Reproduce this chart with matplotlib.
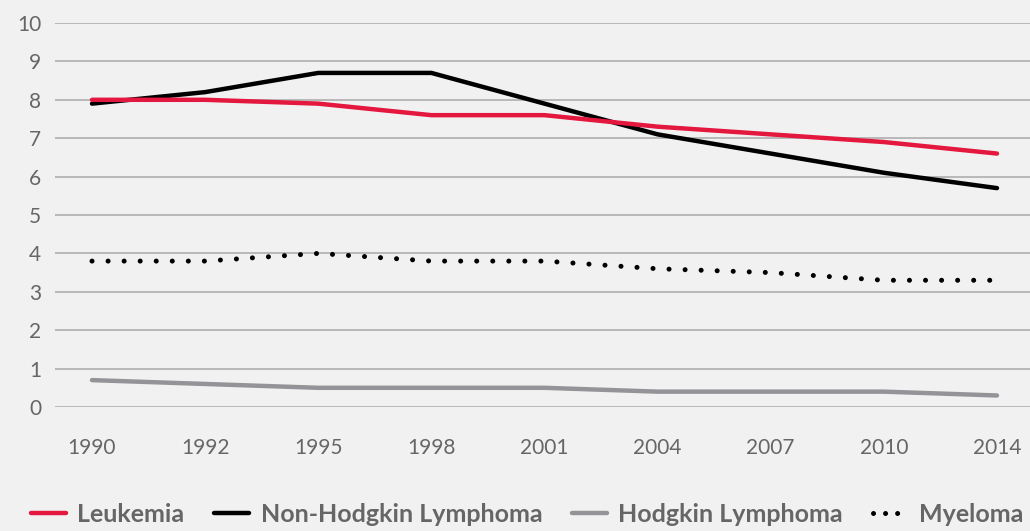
import matplotlib.pyplot as plt
from matplotlib.lines import Line2D

years = ['1990', '1992', '1995', '1998', '2001', '2004', '2007', '2010', '2014']
leukemia = [8.0, 8.0, 7.9, 7.6, 7.6, 7.3, 7.1, 6.9, 6.6]
nhl = [7.9, 8.2, 8.7, 8.7, 7.9, 7.1, 6.6, 6.1, 5.7]
hodgkin = [0.7, 0.6, 0.5, 0.5, 0.5, 0.4, 0.4, 0.4, 0.3]
myeloma = [3.8, 3.8, 4.0, 3.8, 3.8, 3.6, 3.5, 3.3, 3.3]

bg = '#f1f1f1'
txt = '#666666'
plt.rcParams['font.family'] = ['Lato', 'DejaVu Sans']

fig = plt.figure(figsize=(10.3, 5.31), dpi=100, facecolor=bg)
ax = fig.add_axes([55 / 1030, 1 - 407 / 531, 975 / 1030, 384 / 531], facecolor=bg)

x = list(range(len(years)))
ax.plot(x, hodgkin, color='#949498', lw=3.2, solid_capstyle='round', clip_on=False)
ax.plot(x, myeloma, color='black', lw=3.6, linestyle=(0, (0.01, 3.2)),
        dash_capstyle='round', clip_on=False)
ax.plot(x, nhl, color='black', lw=3.2, solid_capstyle='round', clip_on=False)
ax.plot(x, leukemia, color='#e4173e', lw=3.2, solid_capstyle='round', clip_on=False)

ax.set_ylim(0, 10)
ax.set_xlim(-37 / 113.1, 8 + 33 / 113.1)
ax.set_yticks(range(0, 11))
ax.set_xticks(x)
ax.set_xticklabels(years)
ax.yaxis.grid(True, color='#b3b3b3', lw=1.3)
ax.set_axisbelow(True)
for s in ax.spines.values():
    s.set_visible(False)
ax.tick_params(axis='both', length=0, labelsize=15, labelcolor=txt)
ax.tick_params(axis='x', pad=22)
ax.tick_params(axis='y', pad=10)

handles = [
    Line2D([], [], color='#e4173e', lw=3.2, solid_capstyle='round'),
    Line2D([], [], color='black', lw=3.2, solid_capstyle='round'),
    Line2D([], [], color='#949498', lw=3.2, solid_capstyle='round'),
    Line2D([], [], color='black', lw=3.6, linestyle=(0, (0.01, 2.4)), dash_capstyle='round'),
]
labels = ['Leukemia', 'Non-Hodgkin Lymphoma', 'Hodgkin Lymphoma', 'Myeloma']
leg = fig.legend(handles, labels, loc='center', bbox_to_anchor=(0.512, 1 - 514 / 531), ncol=4,
                 frameon=False, handlelength=1.4, handletextpad=0.45, columnspacing=1.2,
                 prop={'weight': 'bold', 'size': 18})
for t in leg.get_texts():
    t.set_color(txt)

fig.savefig('out.png', dpi=100, facecolor=bg)
